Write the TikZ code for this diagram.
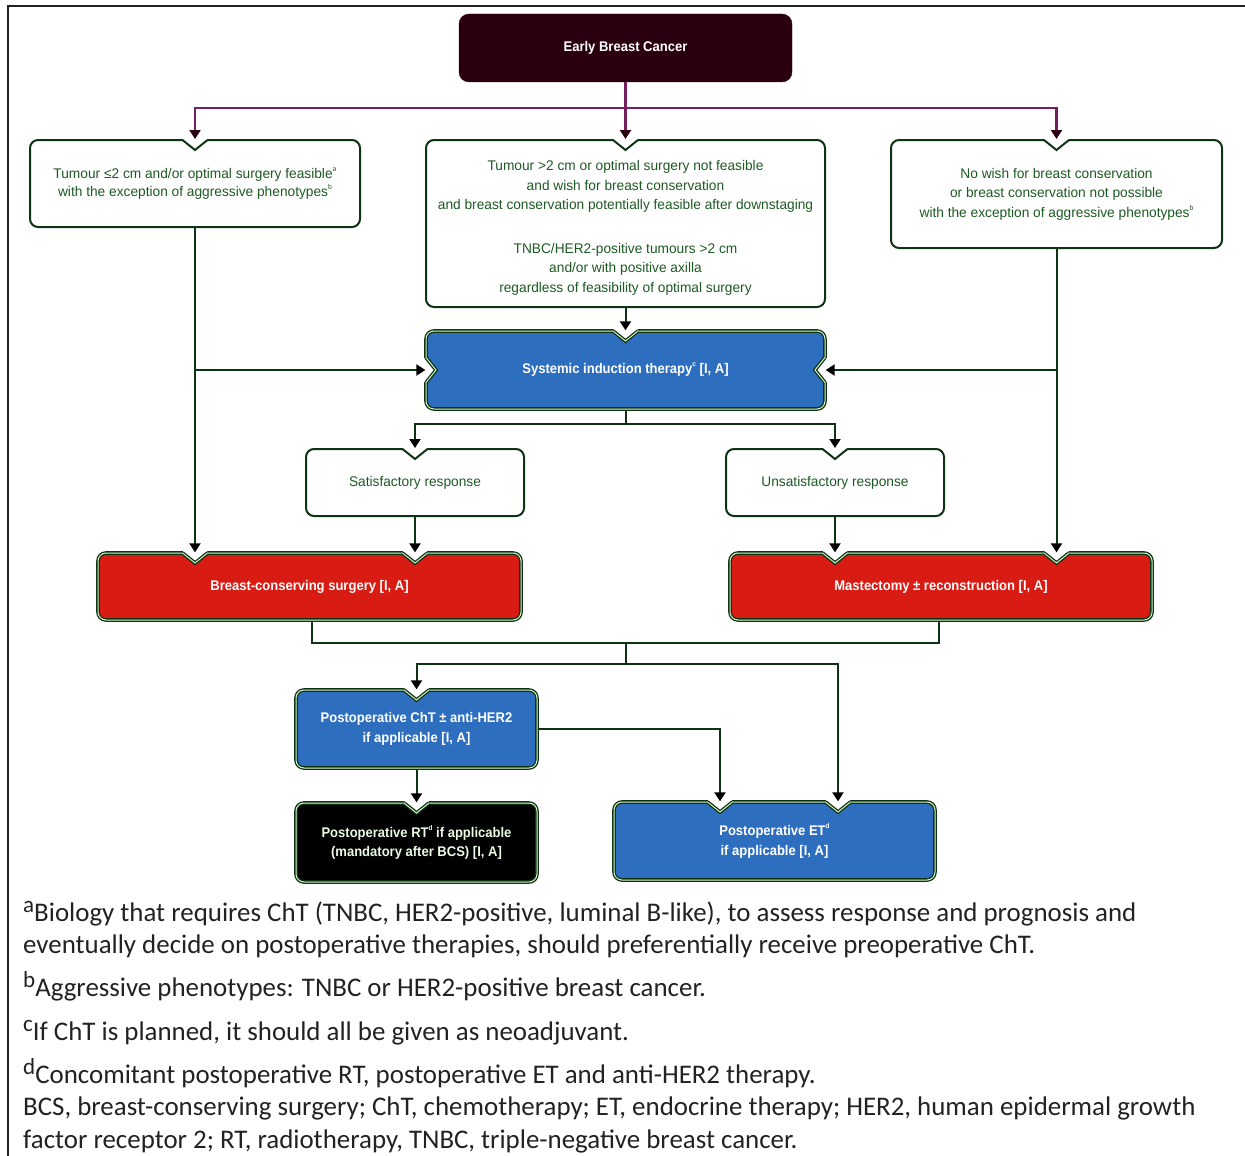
\documentclass[tikz,border=0pt]{standalone}
\usepackage{fontspec}
\setmainfont{Carlito}
\newfontfamily\condr[FakeStretch=0.98]{Liberation Sans}
\newfontfamily\condb[FakeStretch=0.93]{Liberation Sans Bold}
\usetikzlibrary{arrows.meta,calc}

\definecolor{ebcc}{HTML}{2A0010}
\definecolor{purp}{HTML}{75205E}
\definecolor{gline}{HTML}{0E3312}
\definecolor{gtext}{HTML}{1E5A24}
\definecolor{blu}{HTML}{2D6EBF}
\definecolor{rd}{HTML}{D81C14}
\definecolor{halo}{HTML}{D6F2CC}
\definecolor{foot}{HTML}{222222}
\definecolor{rttext}{HTML}{EAFBE2}

\newcommand{\sps}[1]{\raisebox{0.5em}{\fontsize{7}{7}\selectfont #1}}
\newcommand{\fsup}[1]{\raisebox{9pt}{\fontsize{23}{23}\selectfont #1}}

\tikzset{
  wbox/.style={draw=gline, line width=2pt, rounded corners=8pt, fill=white, text=gtext,
    font=\condr\fontsize{14}{19.5}\selectfont, align=center, inner sep=0pt},
  wtext/.style={text=gtext, font=\condr\fontsize{14}{19.5}\selectfont, align=center, inner sep=0pt},
  cbox/.style={draw=gline, line width=1.3pt, double=halo, double distance=1pt, rounded corners=8pt,
    text=white, font=\condb\fontsize{14}{19.5}\selectfont, align=center, inner sep=0pt},
  wline/.style={draw=gline, line width=2pt, line join=miter},
  cline/.style={draw=gline, line width=1.3pt, double=halo, double distance=1pt, line join=miter},
  pline/.style={draw=purp, line width=2.2pt},
  ptip/.style={pline, -{Triangle[width=11pt,length=9pt,color=ebcc]}},
  gl/.style={draw=gline, line width=2pt},
  arr/.style={gl, -{Triangle[width=11pt,length=9pt,color=black]}},
  fn/.style={anchor=base west, inner sep=0pt, text=foot, font=\fontsize{26.9}{30}\selectfont},
}

\newcommand{\tnotch}[3]{%
  \fill[white] (#1-12,#2-3) -- (#1+12,#2-3) -- (#1+12,#2) -- (#1,#2+10) -- (#1-12,#2) -- cycle;
  \draw[#3] (#1-12.5,#2) -- (#1,#2+10) -- (#1+12.5,#2);}
\newcommand{\lnotch}[3]{%
  \fill[white] (#1-3,#2-12) -- (#1,#2-12) -- (#1+10,#2) -- (#1,#2+12) -- (#1-3,#2+12) -- cycle;
  \draw[#3] (#1,#2-12.5) -- (#1+10,#2) -- (#1,#2+12.5);}
\newcommand{\rnotch}[3]{%
  \fill[white] (#1+3,#2-12) -- (#1,#2-12) -- (#1-10,#2) -- (#1,#2+12) -- (#1+3,#2+12) -- cycle;
  \draw[#3] (#1,#2-12.5) -- (#1-10,#2) -- (#1,#2+12.5);}

\begin{document}
\begin{tikzpicture}[x=1pt,y=-1pt]
\useasboundingbox (0,0) rectangle (1245,1156);
\fill[white] (0,0) rectangle (1245,1156);
\draw[foot, line width=2.4pt] (1245,6) -- (8,6) -- (8,1156);

% nodes
\node[fill=ebcc, draw=ebcc, rounded corners=10pt, minimum width=333pt, minimum height=68pt,
  text=white, font=\condb\fontsize{14}{17}\selectfont, inner sep=0pt] (ebc) at (625.5,48) {Early Breast Cancer};

\node[wbox, font=\condr\fontsize{14}{18}\selectfont, minimum width=330pt, minimum height=87pt] (l1) at (195,183.5)
  {Tumour ≤2 cm and/or optimal surgery feasible\sps{a}\\with the exception of aggressive phenotypes\sps{b}};
\node[wbox, minimum width=399pt, minimum height=167pt] (m1) at (625.5,223.5) {};
\node[wtext] (m1t) at (625.5,228)
  {Tumour >2 cm or optimal surgery not feasible\\and wish for breast conservation\\and breast conservation potentially feasible after downstaging\\[24pt]TNBC/HER2-positive tumours >2 cm\\and/or with positive axilla\\regardless of feasibility of optimal surgery};
\node[wbox, minimum width=331pt, minimum height=108pt] (r1) at (1056.5,194)
  {No wish for breast conservation\\or breast conservation not possible\\with the exception of aggressive phenotypes\sps{b}};

\node[cbox, fill=blu, minimum width=399pt, minimum height=78pt] (sit) at (625.5,370)
  {Systemic induction therapy\sps{c} [I, A]};

\node[wbox, minimum width=218pt, minimum height=67pt] (sat) at (415,482.5) {Satisfactory response};
\node[wbox, minimum width=218pt, minimum height=67pt] (uns) at (835,482.5) {Unsatisfactory response};

\node[cbox, fill=rd, minimum width=423pt, minimum height=67pt] (bcs) at (309.5,586.5) {Breast-conserving surgery [I, A]};
\node[cbox, fill=rd, minimum width=422pt, minimum height=67pt] (mas) at (941,586.5) {Mastectomy ± reconstruction [I, A]};

\node[cbox, fill=blu, minimum width=241pt, minimum height=78pt] (pct) at (416.5,729)
  {Postoperative ChT ± anti-HER2\\if applicable [I, A]};
\node[cbox, fill=black, text=rttext, minimum width=241pt, minimum height=79pt] (rt) at (416.5,842.5)
  {Postoperative RT\sps{d} if applicable\\(mandatory after BCS) [I, A]};
\node[cbox, fill=blu, minimum width=321pt, minimum height=78pt] (pet) at (774.5,841)
  {Postoperative ET\sps{d}\\if applicable [I, A]};

% notches
\tnotch{195}{140}{wline}
\tnotch{625.5}{140}{wline}
\tnotch{1056.5}{140}{wline}
\tnotch{625.5}{331}{cline}
\lnotch{426}{370}{cline}
\rnotch{825}{370}{cline}
\tnotch{415}{449}{wline}
\tnotch{835}{449}{wline}
\tnotch{195}{553}{cline}
\tnotch{415}{553}{cline}
\tnotch{835}{553}{cline}
\tnotch{1056.5}{553}{cline}
\tnotch{416.5}{690}{cline}
\tnotch{416.5}{803}{cline}
\tnotch{720}{802}{cline}
\tnotch{838}{802}{cline}

% purple connectors
\coordinate (pj) at ($(ebc.south)+(0,26)$);
\draw[pline] (ebc.south) -- (pj);
\draw[ptip] (pj) -| (l1.north);
\draw[ptip] (pj) -- (m1.north);
\draw[ptip] (pj) -| (r1.north);

% green connectors
\draw[arr] (m1.south) -- (sit.north);
\draw[arr] (l1.south) -- (l1.south |- bcs.north);
\draw[arr] (l1.south |- sit.west) -- (sit.west);
\draw[arr] (r1.south) -- (r1.south |- mas.north);
\draw[arr] (r1.south |- sit.east) -- (sit.east);
\coordinate (sj) at ($(sit.south)+(0,14)$);
\draw[gl] (sit.south) -- (sj);
\draw[arr] (sj) -| (sat.north);
\draw[arr] (sj) -| (uns.north);
\draw[arr] (sat.south) -- (sat.south |- bcs.north);
\draw[arr] (uns.south) -- (uns.south |- mas.north);
\coordinate (bjl) at ($(bcs.south)+(2.5,22)$);
\coordinate (bjr) at ($(mas.south)+(-2,22)$);
\draw[gl] ([xshift=2.5pt]bcs.south) -- (bjl) -- (bjr) -- ([xshift=-2pt]mas.south);
\coordinate (bm) at ($(bjl)!0.5!(bjr)$);
\coordinate (bm2) at ($(bm)+(0,21)$);
\draw[gl] (bm) -- (bm2);
\coordinate (petL) at ($(pet.north)+(-54.5,0)$);
\coordinate (petR) at ($(pet.north)+(63.5,0)$);
\draw[arr] (bm2) -| (pct.north);
\draw[arr] (bm2) -| (petR);
\draw[arr] (pct.south) -- (rt.north);
\draw[arr] (pct.east) -| (petL);

% footnotes
\node[fn] (f1) at (23,921) {\fsup{a}Biology that requires ChT (TNBC, HER2-positive, luminal B-like), to assess response and prognosis and};
\node[fn] (f2) at (23,953) {eventually decide on postoperative therapies, should preferentially receive preoperative ChT.};
\node[fn] (f3) at (23,996) {\fsup{b}Aggressive phenotypes: TNBC or HER2-positive breast cancer.};
\node[fn] (f4) at (23,1040) {\fsup{c}If ChT is planned, it should all be given as neoadjuvant.};
\node[fn] (f5) at (23,1083) {\fsup{d}Concomitant postoperative RT, postoperative ET and anti-HER2 therapy.};
\node[fn] (f6) at (23,1115) {BCS, breast-conserving surgery; ChT, chemotherapy; ET, endocrine therapy; HER2, human epidermal growth};
\node[fn] (f7) at (23,1148) {factor receptor 2; RT, radiotherapy, TNBC, triple-negative breast cancer.};
\end{tikzpicture}
\end{document}
